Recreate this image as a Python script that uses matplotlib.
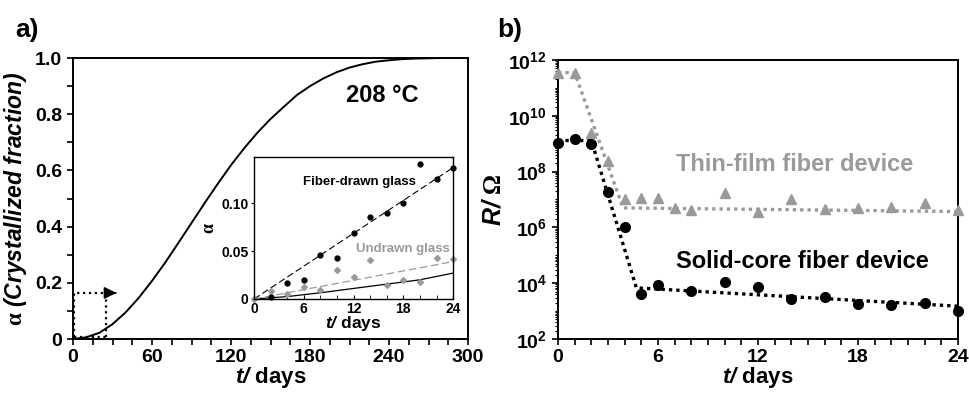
import math
import matplotlib
matplotlib.use('Agg')
import matplotlib.pyplot as plt
from matplotlib.ticker import MultipleLocator, FixedLocator, LogLocator, FuncFormatter, NullFormatter

plt.rcParams['font.family'] = ['Liberation Sans', 'DejaVu Sans']
plt.rcParams['font.weight'] = 'bold'
plt.rcParams['axes.labelweight'] = 'bold'
plt.rcParams['mathtext.fontset'] = 'custom'
plt.rcParams['mathtext.rm'] = 'Liberation Serif'
plt.rcParams['mathtext.it'] = 'Liberation Sans:italic'
plt.rcParams['mathtext.bf'] = 'Liberation Sans:bold'
plt.rcParams['mathtext.bfit'] = 'Liberation Sans:italic:bold'

# ---------------- data: panel a ----------------
t_curve = [0, 10, 20, 30, 40, 50, 60, 70, 80, 90, 100, 110, 120, 130, 140, 150,
           160, 170, 180, 190, 200, 210, 220, 230, 240, 250, 260, 270, 280, 290, 300]
alpha_curve = [0.0, 0.006, 0.022, 0.053, 0.095, 0.147, 0.207, 0.272, 0.342, 0.413,
               0.484, 0.553, 0.619, 0.679, 0.734, 0.783, 0.826, 0.868, 0.900, 0.927,
               0.949, 0.966, 0.978, 0.987, 0.992, 0.996, 0.998, 0.999, 1.0, 1.0, 1.0]

# inset
t_fiber = [2, 4, 6, 8, 10, 12, 14, 16, 18, 20, 22, 24]
alpha_fiber = [0.0025, 0.017, 0.020, 0.046, 0.043, 0.069, 0.085, 0.090, 0.100, 0.141, 0.125, 0.137]
t_undrawn = [0, 2, 4, 6, 8, 10, 12, 14, 16, 18, 20, 22, 24]
alpha_undrawn = [0.0, 0.0084, 0.0049, 0.0126, 0.0091, 0.030, 0.0225, 0.041, 0.0147,
                 0.0193, 0.0182, 0.043, 0.042]
t_fit = [0, 24]
alpha_fiber_fit = [0.0, 0.137]
alpha_undrawn_fit = [0.0, 0.039]
t_curve_zoom = [0, 4, 8, 12, 16, 20, 24]
alpha_curve_zoom = [0.0, 0.0025, 0.0065, 0.011, 0.0155, 0.020, 0.027]

# ---------------- data: panel b ----------------
t_thin = [0, 1, 2, 3, 4, 5, 6, 7, 8, 10, 12, 14, 16, 18, 20, 22, 24]
R_thin = [3.5e11, 3.5e11, 2.4e9, 2.3e8, 1.0e7, 1.1e7, 1.1e7, 4.8e6, 4.1e6, 1.7e7,
          3.6e6, 1.0e7, 4.4e6, 4.8e6, 5.5e6, 7.6e6, 4.1e6]
t_solid = [0, 1, 2, 3, 4, 5, 6, 8, 10, 12, 14, 16, 18, 20, 22, 24]
R_solid = [1.1e9, 1.5e9, 1.0e9, 1.8e7, 1.05e6, 4.0e3, 8.5e3, 5.1e3, 1.1e4, 7.6e3,
           2.7e3, 3.3e3, 1.8e3, 1.6e3, 2.0e3, 1.0e3]
t_thin_fit = [0, 1, 3.9, 24]
R_thin_fit = [3.5e11, 3.5e11, 5.0e6, 3.7e6]
t_solid_fit = [0, 2, 4.7, 24]
R_solid_fit = [1.3e9, 1.3e9, 6.8e3, 1.5e3]

GRAY = '#9a9a9a'
xlabel = r'$\mathbfit{t/}$ days'

fig = plt.figure(figsize=(9.7, 3.93), dpi=100)

# ================= panel a =================
ax = fig.add_axes([0.0753, 0.1374, 0.4072, 0.715])
ax.plot(t_curve, alpha_curve, color='k', lw=1.4)
ax.set_xlim(0, 300)
ax.set_ylim(0, 1.0)
ax.xaxis.set_major_locator(MultipleLocator(60))
ax.xaxis.set_minor_locator(MultipleLocator(15))
ax.yaxis.set_major_locator(MultipleLocator(0.2))
ax.yaxis.set_minor_locator(MultipleLocator(0.1))
ax.yaxis.set_major_formatter(FuncFormatter(lambda v, p: '0' if abs(v) < 1e-9 else f'{v:.1f}'))
ax.tick_params(which='both', direction='out', labelsize=14, width=1.2)
ax.tick_params(which='major', length=4.5)
ax.tick_params(which='minor', length=4)
ax.tick_params(axis='x', which='major', pad=2.5)
for s in ax.spines.values():
    s.set_linewidth(1.4)
ax.set_xlabel(xlabel, fontsize=16, fontweight='bold', labelpad=-0.5)
ax.set_ylabel(r'$\mathrm{\alpha}$ (Crystallized fraction)', fontsize=16.5,
              fontstyle='italic', fontweight='bold', labelpad=4)
ax.text(234.7, 0.868, '208 °C', fontsize=17, ha='center', va='center')

# dotted zoom box and arrow
box_t, box_a = 25, 0.164
ax.plot([0.6, 0.6, box_t, box_t], [0.006, box_a, box_a, 0.006], color='k', ls=':', lw=1.6)
ax.plot([0.6, box_t], [0.006, 0.006], color='k', ls=':', lw=1.6)
ax.plot([box_t, 31], [box_a, box_a], color='k', ls=':', lw=1.6)
ax.annotate('', xy=(35, box_a), xytext=(30, box_a),
            arrowprops=dict(arrowstyle='-|>', color='k', lw=1.2, mutation_scale=18))

# inset
ins = fig.add_axes([0.2619, 0.2392, 0.2052, 0.3613])
ins.plot(t_curve_zoom, alpha_curve_zoom, color='k', lw=0.9)
ins.plot(t_fit, alpha_undrawn_fit, color=GRAY, lw=0.9, ls=(0, (6, 3)))
ins.plot(t_fit, alpha_fiber_fit, color='k', lw=0.8, ls=(0, (6, 3)))
ins.plot(t_undrawn, alpha_undrawn, 'D', color=GRAY, ms=3, clip_on=False)
ins.plot(t_fiber, alpha_fiber, 'o', color='k', ms=3.5, clip_on=False)
ins.set_xlim(0, 24)
ins.set_ylim(0, 0.148)
ins.xaxis.set_major_locator(MultipleLocator(6))
ins.xaxis.set_minor_locator(MultipleLocator(2))
ins.yaxis.set_major_locator(FixedLocator([0, 0.05, 0.10]))
ins.yaxis.set_major_formatter(FuncFormatter(lambda v, p: '0' if abs(v) < 1e-9 else f'{v:.2f}'))
ins.tick_params(axis='x', which='both', direction='in', labelsize=10, length=3, pad=2)
ins.tick_params(axis='y', which='both', direction='out', labelsize=10, length=2.5, pad=1.5)
for s in ins.spines.values():
    s.set_linewidth(1.0)
ins.set_xlabel(xlabel, fontsize=12.5, fontweight='bold', labelpad=-1)
ins.set_ylabel(r'$\mathrm{\alpha}$', fontsize=13, labelpad=2)
ins.text(12.66, 0.122, 'Fiber-drawn glass', fontsize=9.5, ha='center', va='center')
ins.text(17.9, 0.052, 'Undrawn glass', fontsize=9.5, ha='center', va='center', color=GRAY)

fig.text(0.0155, 0.924, 'a)', fontsize=19, fontweight='bold', ha='left', va='center')

# ================= panel b =================
bx = fig.add_axes([0.5753, 0.1374, 0.4124, 0.71])
bx.set_yscale('log')
bx.plot(t_thin_fit, R_thin_fit, color=GRAY, lw=2.4, ls=(0, (1, 1.2)))
bx.plot(t_solid_fit, R_solid_fit, color='k', lw=2.4, ls=(0, (1, 1.2)))
bx.plot(t_thin, R_thin, '^', color=GRAY, ms=7, clip_on=False, zorder=3)
bx.plot(t_solid, R_solid, 'o', color='k', ms=7, clip_on=False, zorder=3)
bx.set_xlim(0, 24)
bx.set_ylim(1e2, 1e12)
bx.xaxis.set_major_locator(MultipleLocator(6))
bx.xaxis.set_minor_locator(MultipleLocator(1))
bx.yaxis.set_major_locator(FixedLocator([1e2, 1e4, 1e6, 1e8, 1e10, 1e12]))
bx.yaxis.set_minor_locator(LogLocator(base=10, subs=[1, 2, 3, 4, 5, 6, 7, 8, 9], numticks=30))
bx.yaxis.set_minor_formatter(NullFormatter())
bx.yaxis.set_major_formatter(FuncFormatter(lambda v, p: r'$\mathbf{10^{%d}}$' % round(math.log10(v))))
bx.tick_params(which='both', direction='out', labelsize=14, width=1.2)
bx.tick_params(which='major', length=4.5)
bx.tick_params(axis='x', which='minor', length=4)
bx.tick_params(axis='x', which='major', pad=2.5)
bx.tick_params(axis='y', which='minor', length=2.5, width=0.8)
for s in bx.spines.values():
    s.set_linewidth(1.4)
bx.set_xlabel(xlabel, fontsize=16, fontweight='bold', labelpad=-0.5)
bx.set_ylabel(r'$\mathbfit{R/}$ $\mathrm{\Omega}$', fontsize=18, labelpad=2)
bx.text(14.22, 10**8.25, 'Thin-film fiber device', fontsize=17, ha='center', va='center', color=GRAY)
bx.text(14.67, 10**4.79, 'Solid-core fiber device', fontsize=17, ha='center', va='center', color='k')

fig.text(0.5124, 0.924, 'b)', fontsize=19, fontweight='bold', ha='left', va='center')

fig.savefig('out.png', dpi=100)
